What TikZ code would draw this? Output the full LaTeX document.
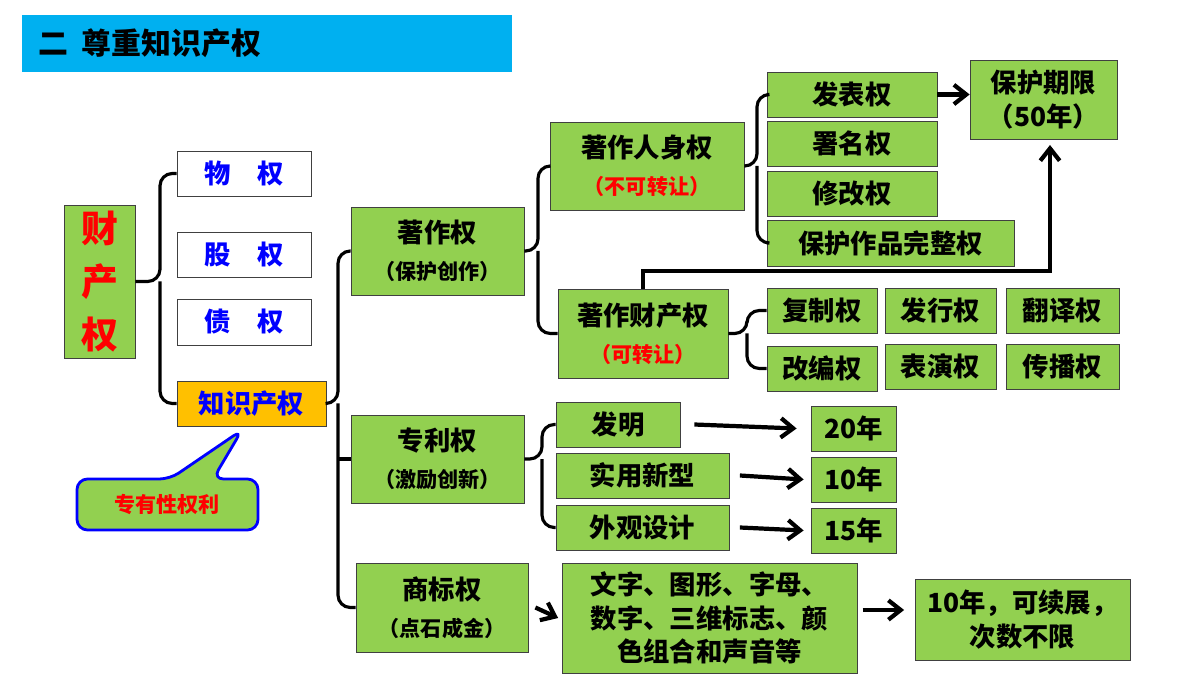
\documentclass[tikz,border=0pt]{standalone}
\usepackage{fontspec}
\setmainfont{Noto Sans CJK SC}
\usepackage{tikz}
\usetikzlibrary{arrows.meta}
\usetikzlibrary{calc}
\usetikzlibrary{positioning}
\usetikzlibrary{shapes}

\definecolor{boxgreen}{RGB}{146,208,80}
\definecolor{barblue}{RGB}{0,176,240}
\definecolor{gold}{RGB}{255,192,0}

% box from pixel corners: [style]{name}{x1}{y1}{x2}{y2}{text}
\newcommand{\bx}[7][]{%
  \node[box,#1,minimum width={(#5-#3)*0.02cm},minimum height={(#6-#4)*0.02cm}]
    (#2) at ({(#3+#5)/2},{-(#4+#6)/2}) {#7};}
\newcommand{\smallsub}{\fontsize{12}{14}\selectfont}

\begin{document}
\begin{tikzpicture}[x=0.02cm,y=0.02cm]
      \tikzset{
        box/.style={
          draw=black!75,
          fill=boxgreen,
          inner sep=0pt,
          align=center,
          font=\fontsize{15}{19}\selectfont\bfseries
        },
        plain/.style={box, fill=white, text=blue},
        brace/.style={line width=1.8pt, rounded corners=7pt},
        thickarrow/.style={line width=2.4pt, -{Straight Barb[length=7pt,width=11pt]}},
        note/.style={text=red, font=\fontsize{12}{16}\selectfont\bfseries}
      }
      \useasboundingbox[fill=white] (0,0) rectangle (1200,-675);
      % title bar
      \fill[barblue] (22,-15) rectangle (512,-72);
      \node[anchor=west, font=\fontsize{17}{20}\selectfont\bfseries] (title) at (32,-43) {二\ \ 尊重知识产权};
      % left part
      \bx[text=red, font=\fontsize{21}{30}\selectfont\bfseries]{prop}{64}{205}{135}{358}{财\\产\\权}
      \bx[plain]{wuquan}{177}{151}{311}{196}{物\quad 权}
      \bx[plain]{guquan}{177}{232}{311}{277}{股\quad 权}
      \bx[plain]{zhaiquan}{177}{299}{311}{345}{债\quad 权}
      \bx[fill=gold, text=blue]{ip}{177}{381}{326}{426}{知识产权}
      % callout
      \draw[blue, line width=1.6pt, fill=boxgreen, rounded corners=6pt]
        (77,-479) -- (170,-479) -- (242,-430) -- (213,-479) -- (258,-479)
        -- (258,-530) -- (77,-530) -- cycle;
      \node[note] (excl) at (167,-504) {专有性权利};
      % second level
      \bx{copy}{351}{207}{524}{295}{著作权\\[2pt]{\smallsub （保护创作）}}
      \bx{patent}{351}{415}{524}{503}{专利权\\[2pt]{\smallsub （激励创新）}}
      \bx{mark}{356}{563}{528}{652}{商标权\\[2pt]{\smallsub （点石成金）}}
      % copyright
      \bx{person}{550}{122}{744}{210}{著作人身权\\[2pt]{\color{red}\smallsub （不可转让）}}
      \bx{wealth}{558}{289}{728}{378}{著作财产权\\[2pt]{\color{red}\smallsub （可转让）}}
      \bx{fabiao}{767}{72}{937}{117}{发表权}
      \bx{shuming}{767}{121}{937}{166}{署名权}
      \bx{xiugai}{767}{171}{937}{216}{修改权}
      \bx{wanzheng}{767}{220}{1014}{266}{保护作品完整权}
      \bx{term}{970}{60}{1117}{139}{保护期限\\（50年）}
      \bx{fuzhi}{767}{288}{877}{333}{复制权}
      \bx{faxing}{885}{288}{996}{333}{发行权}
      \bx{fanyi}{1006}{288}{1119}{333}{翻译权}
      \bx{gaibian}{767}{346}{877}{391}{改编权}
      \bx{biaoyan}{885}{344}{996}{389}{表演权}
      \bx{chuanbo}{1006}{344}{1119}{389}{传播权}
      % patent
      \bx{faming}{556}{402}{680}{447}{发明}
      \bx{shiyong}{556}{453}{729}{498}{实用新型}
      \bx{waiguan}{556}{505}{729}{550}{外观设计}
      \bx{y20}{811}{406}{896}{451}{20年}
      \bx{y10}{811}{457}{896}{502}{10年}
      \bx{y15}{811}{508}{896}{553}{15年}
      % trademark
      \bx{signs}{562}{563}{857}{673}{文字、图形、字母、\\数字、三维标志、颜\\色组合和声音等}
      \bx{renew}{915}{579}{1130}{660}{10年，可续展，\\次数不限}
      % braces
      \coordinate (b1) at (160,0);
      \draw[brace] (wuquan.west) -| (prop.east -| b1) -- (prop.east);
      \draw[brace] (ip.west) -| (prop.east -| b1);
      \coordinate (b2) at (338,0);
      \draw[brace] (copy.west) -| (ip.east -| b2) -- (ip.east);
      \draw[brace] (mark.west) -| (ip.east -| b2);
      \draw[brace] (patent.west) -- (patent.west -| b2);
      \coordinate (b3) at (538,0);
      \draw[brace] (person.west) -| (copy.east -| b3) -- (copy.east);
      \draw[brace] (wealth.west) -| (copy.east -| b3);
      \coordinate (b4) at (757,0);
      \draw[brace] (fabiao.west) -| (person.east -| b4) -- (person.east);
      \draw[brace] (wanzheng.west) -| (person.east -| b4);
      \coordinate (b5) at (747,0);
      \draw[brace] (fuzhi.west) -| (wealth.east -| b5) -- (wealth.east);
      \draw[brace] (gaibian.west) -| (wealth.east -| b5);
      \coordinate (b6) at (542,0);
      \draw[brace] (faming.west) -| (patent.east -| b6) -- (patent.east);
      \draw[brace] (waiguan.west) -| (patent.east -| b6);
      % arrows
      \coordinate (up) at (1050,-145);
      \coordinate (mid) at (0,-610);
      \draw[thickarrow] (fabiao.east) -- (term.west |- fabiao.east);
      \draw[thickarrow] (wealth.north) |- ++(0,18) -| (up);
      \draw[thickarrow] ([xshift=8pt]faming.east) -- ([xshift=-8pt]y20.west);
      \draw[thickarrow] ([xshift=6pt]shiyong.east) -- ([xshift=-4pt]y10.west);
      \draw[thickarrow] ([xshift=6pt]waiguan.east) -- ([xshift=-4pt]y15.west);
      \draw[thickarrow] ([xshift=4pt]mark.east) -- ([xshift=-2pt]signs.west);
      \draw[thickarrow] ([xshift=3pt]signs.east |- mid) -- ([xshift=-6pt]renew.west |- mid);
\end{tikzpicture}
\end{document}
